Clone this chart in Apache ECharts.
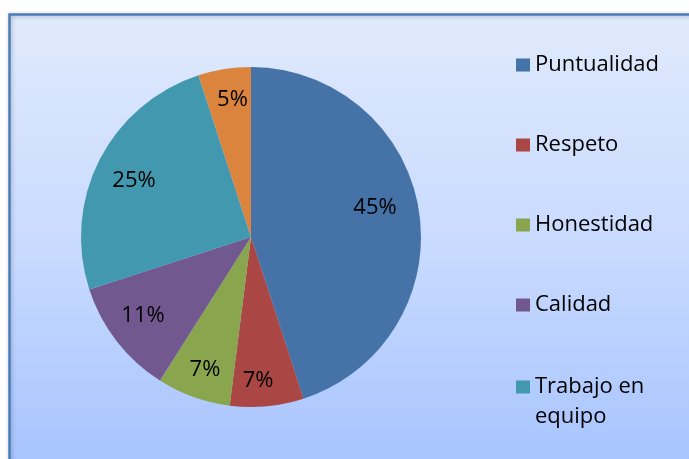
<!DOCTYPE html>
<html>
<head>
<meta charset="utf-8">
<script src="https://cdn.jsdelivr.net/npm/echarts@6/dist/echarts.min.js"></script>
<style>
  html, body { margin: 0; padding: 0; background: #fff; }
  #chart { width: 689px; height: 459px; }
</style>
</head>
<body>
<div id="chart"></div>
<script>
// datos del gráfico
var categorias = ['Puntualidad', 'Respeto', 'Honestidad', 'Calidad', 'Trabajo en equipo', 'Otros'];
var valores = [45, 7, 7, 11, 25, 5];
var colores = ['#4572A7', '#AA4643', '#89A54E', '#71588F', '#4198AF', '#DB843D'];

// colocacion de etiquetas: fraccion del radio y giro (grados) respecto al centro del sector
var labelRadio = [0.75, 0.848, 0.828, 0.787, 0.763, 0.813];
var labelGiro = [-4.4, 2.6, -0.7, 1.6, -1.4, 1.3];
var CX = 251, CY = 237, R = 170;
var FONT = 'Open Sans';

var total = valores.reduce(function (a, b) { return a + b; }, 0);
function anguloMedio(i) {
    var acc = 0;
    for (var j = 0; j < i; j++) acc += valores[j];
    return (acc + valores[i] / 2) / total * 360;
}

var myChart = echarts.init(document.getElementById('chart'));

var legendText = {
    fontFamily: FONT,
    fontSize: 22,
    lineHeight: 30,
    color: '#000'
};

var option = {
    backgroundColor: '#fff',
    animation: false,
    graphic: [{
        type: 'rect',
        z: -10,
        shape: { x: 9.5, y: 14.5, width: 720, height: 470 },
        style: {
            fill: {
                type: 'linear', x: 0, y: 0, x2: 0, y2: 1,
                colorStops: [
                    { offset: 0, color: '#e0eafc' },
                    { offset: 0.5, color: '#c8daff' },
                    { offset: 1, color: '#a4c2fe' }
                ]
            },
            stroke: '#4a7ebb',
            lineWidth: 2.5,
            shadowBlur: 4,
            shadowColor: 'rgba(0,0,0,0.25)',
            shadowOffsetX: 1,
            shadowOffsetY: 1
        }
    }],
    legend: [{
        orient: 'vertical',
        left: 511,
        top: 45,
        itemWidth: 14,
        itemHeight: 13,
        itemGap: 50,
        icon: 'rect',
        data: categorias.slice(0, 4),
        textStyle: legendText
    }, {
        // el texto largo va en dos lineas, alineado arriba con el marcador
        orient: 'vertical',
        left: 511,
        top: 337,
        itemWidth: 14,
        itemHeight: 13,
        icon: 'rect',
        data: [categorias[4]],
        formatter: function (name) {
            return '\n' + name.replace(' equipo', '\nequipo');
        },
        textStyle: legendText
    }],
    series: [{
        type: 'pie',
        center: [CX, CY],
        radius: [0, R],
        startAngle: 90,
        clockwise: true,
        silent: true,
        data: categorias.map(function (c, i) {
            return { name: c, value: valores[i], itemStyle: { color: colores[i] } };
        }),
        label: {
            show: true,
            position: 'inside',
            formatter: '{c}%',
            fontFamily: FONT,
            fontSize: 22,
            color: '#000'
        },
        labelLine: { show: false },
        labelLayout: function (params) {
            var i = params.dataIndex;
            var a = (anguloMedio(i) + labelGiro[i]) * Math.PI / 180;
            var rr = R * labelRadio[i];
            return {
                x: CX + rr * Math.sin(a),
                y: CY - rr * Math.cos(a),
                align: 'center',
                verticalAlign: 'middle'
            };
        }
    }]
};

myChart.setOption(option);
</script>
</body>
</html>
